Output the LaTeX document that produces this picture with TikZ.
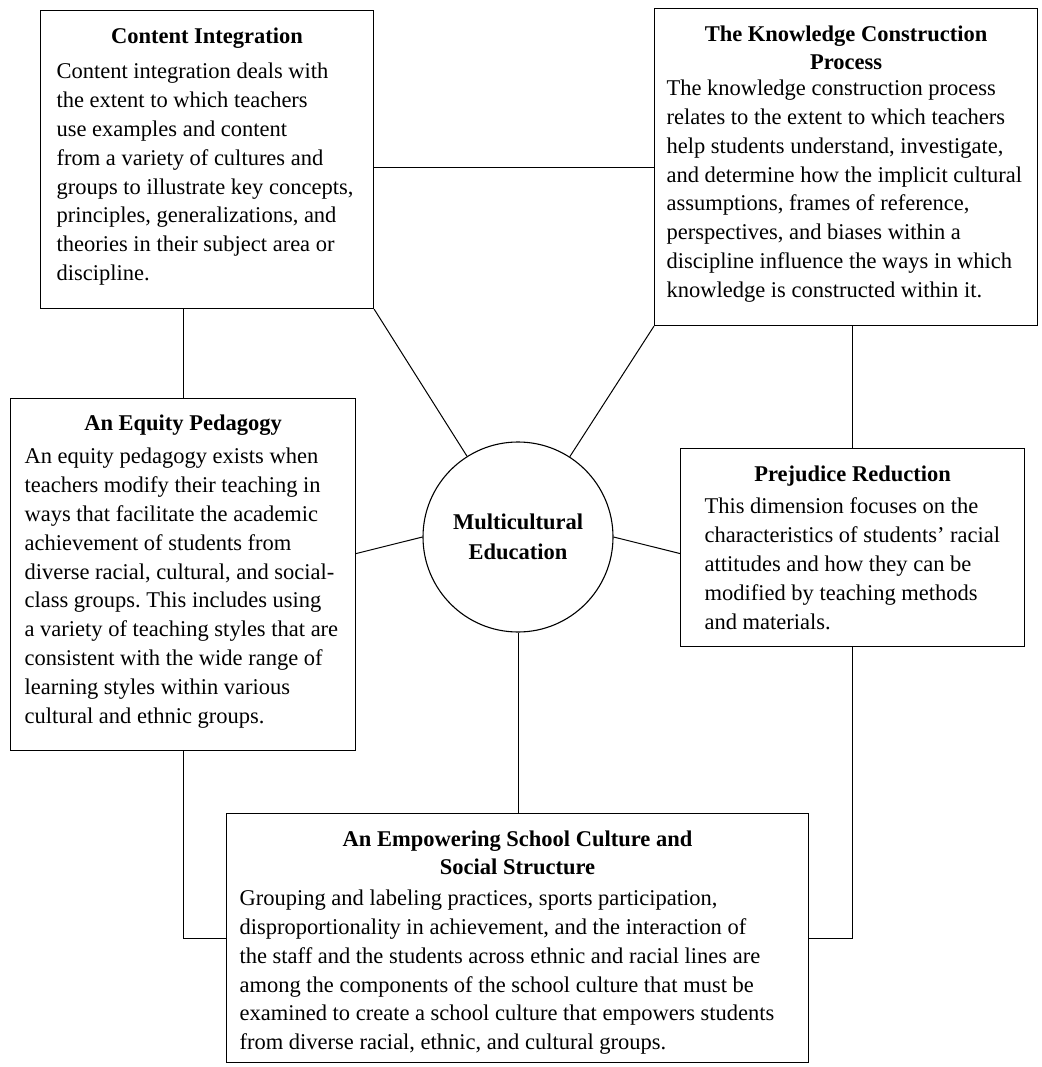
\documentclass[tikz,border=0pt]{standalone}
\usepackage{fontspec}
\setmainfont{Liberation Serif}
\usetikzlibrary{calc}
\frenchspacing
\newcommand{\dimtext}[6]{\parbox[c][#2][t]{#1}{\vspace*{#3}{\centering\bfseries #5\par}\vspace{#4}\raggedright #6\par}}

\begin{document}
\begin{tikzpicture}[x=1pt,y=-1pt,
  font=\fontsize{22.5}{28.8}\selectfont,
  dimbox/.style={draw,line width=1.1pt,anchor=north west,inner ysep=0pt},
  hub/.style={draw,circle,line width=1.1pt,minimum size=190pt,inner sep=0pt,
    align=center,font=\fontsize{22.5}{30}\selectfont\bfseries},
  link/.style={line width=1pt}
]
\useasboundingbox (0,0) rectangle (1041,1067);
\node[dimbox,inner xsep=16pt] (ci) at (40,10) {\dimtext{301pt}{298pt}{17pt}{7pt}{Content Integration}{Content integration deals with\\the extent to which teachers\\use examples and content\\from a variety of cultures and\\groups to illustrate key concepts,\\principles, generalizations, and\\theories in their subject area or\\discipline.}};
\node[dimbox,inner xsep=12pt] (kcp) at (654,8) {\dimtext{359pt}{317pt}{17pt}{-3pt}{The Knowledge Construction\\Process}{The knowledge construction process\\relates to the extent to which teachers\\help students understand, investigate,\\and determine how the implicit cultural\\assumptions, frames of reference,\\perspectives, and biases within a\\discipline influence the ways in which\\knowledge is constructed within it.}};
\node[dimbox,inner xsep=14pt] (eqp) at (10,398) {\dimtext{317pt}{352pt}{16pt}{5pt}{An Equity Pedagogy}{An equity pedagogy exists when\\teachers modify their teaching in\\ways that facilitate the academic\\achievement of students from\\diverse racial, cultural, and social-\\class groups. This includes using\\a variety of teaching styles that are\\consistent with the wide range of\\learning styles within various\\cultural and ethnic groups.}};
\node[dimbox,inner xsep=24pt] (prej) at (680,448) {\dimtext{296pt}{198pt}{17pt}{4pt}{Prejudice Reduction}{This dimension focuses on the\\characteristics of students’ racial\\attitudes and how they can be\\modified by teaching methods\\and materials.}};
\node[dimbox,inner xsep=13pt] (empower) at (226,813) {\dimtext{556pt}{249pt}{17pt}{2pt}{An Empowering School Culture and\\Social Structure}{Grouping and labeling practices, sports participation,\\disproportionality in achievement, and the interaction of\\the staff and the students across ethnic and racial lines are\\among the components of the school culture that must be\\examined to create a school culture that empowers students\\from diverse racial, ethnic, and cultural groups.}};
\node[hub] (multi) at (518,537) {Multicultural\\Education};
\draw[link] (kcp.west) -- (kcp.west -| ci.east);
\draw[link] (eqp.north) -- (eqp.north |- ci.south);
\draw[link] (prej.north) -- (prej.north |- kcp.south);
\draw[link] (eqp.south) |- (empower.west);
\draw[link] (prej.south) |- (empower.east);
\draw[link] (multi) -- (ci.south east);
\draw[link] (multi) -- (kcp.south west);
\draw[link] (multi.west) -- ([yshift=21pt]eqp.east);
\draw[link] (multi.east) -- ([yshift=-6pt]prej.west);
\draw[link] (multi.south) -- (multi.south |- empower.north);
\end{tikzpicture}
\end{document}
